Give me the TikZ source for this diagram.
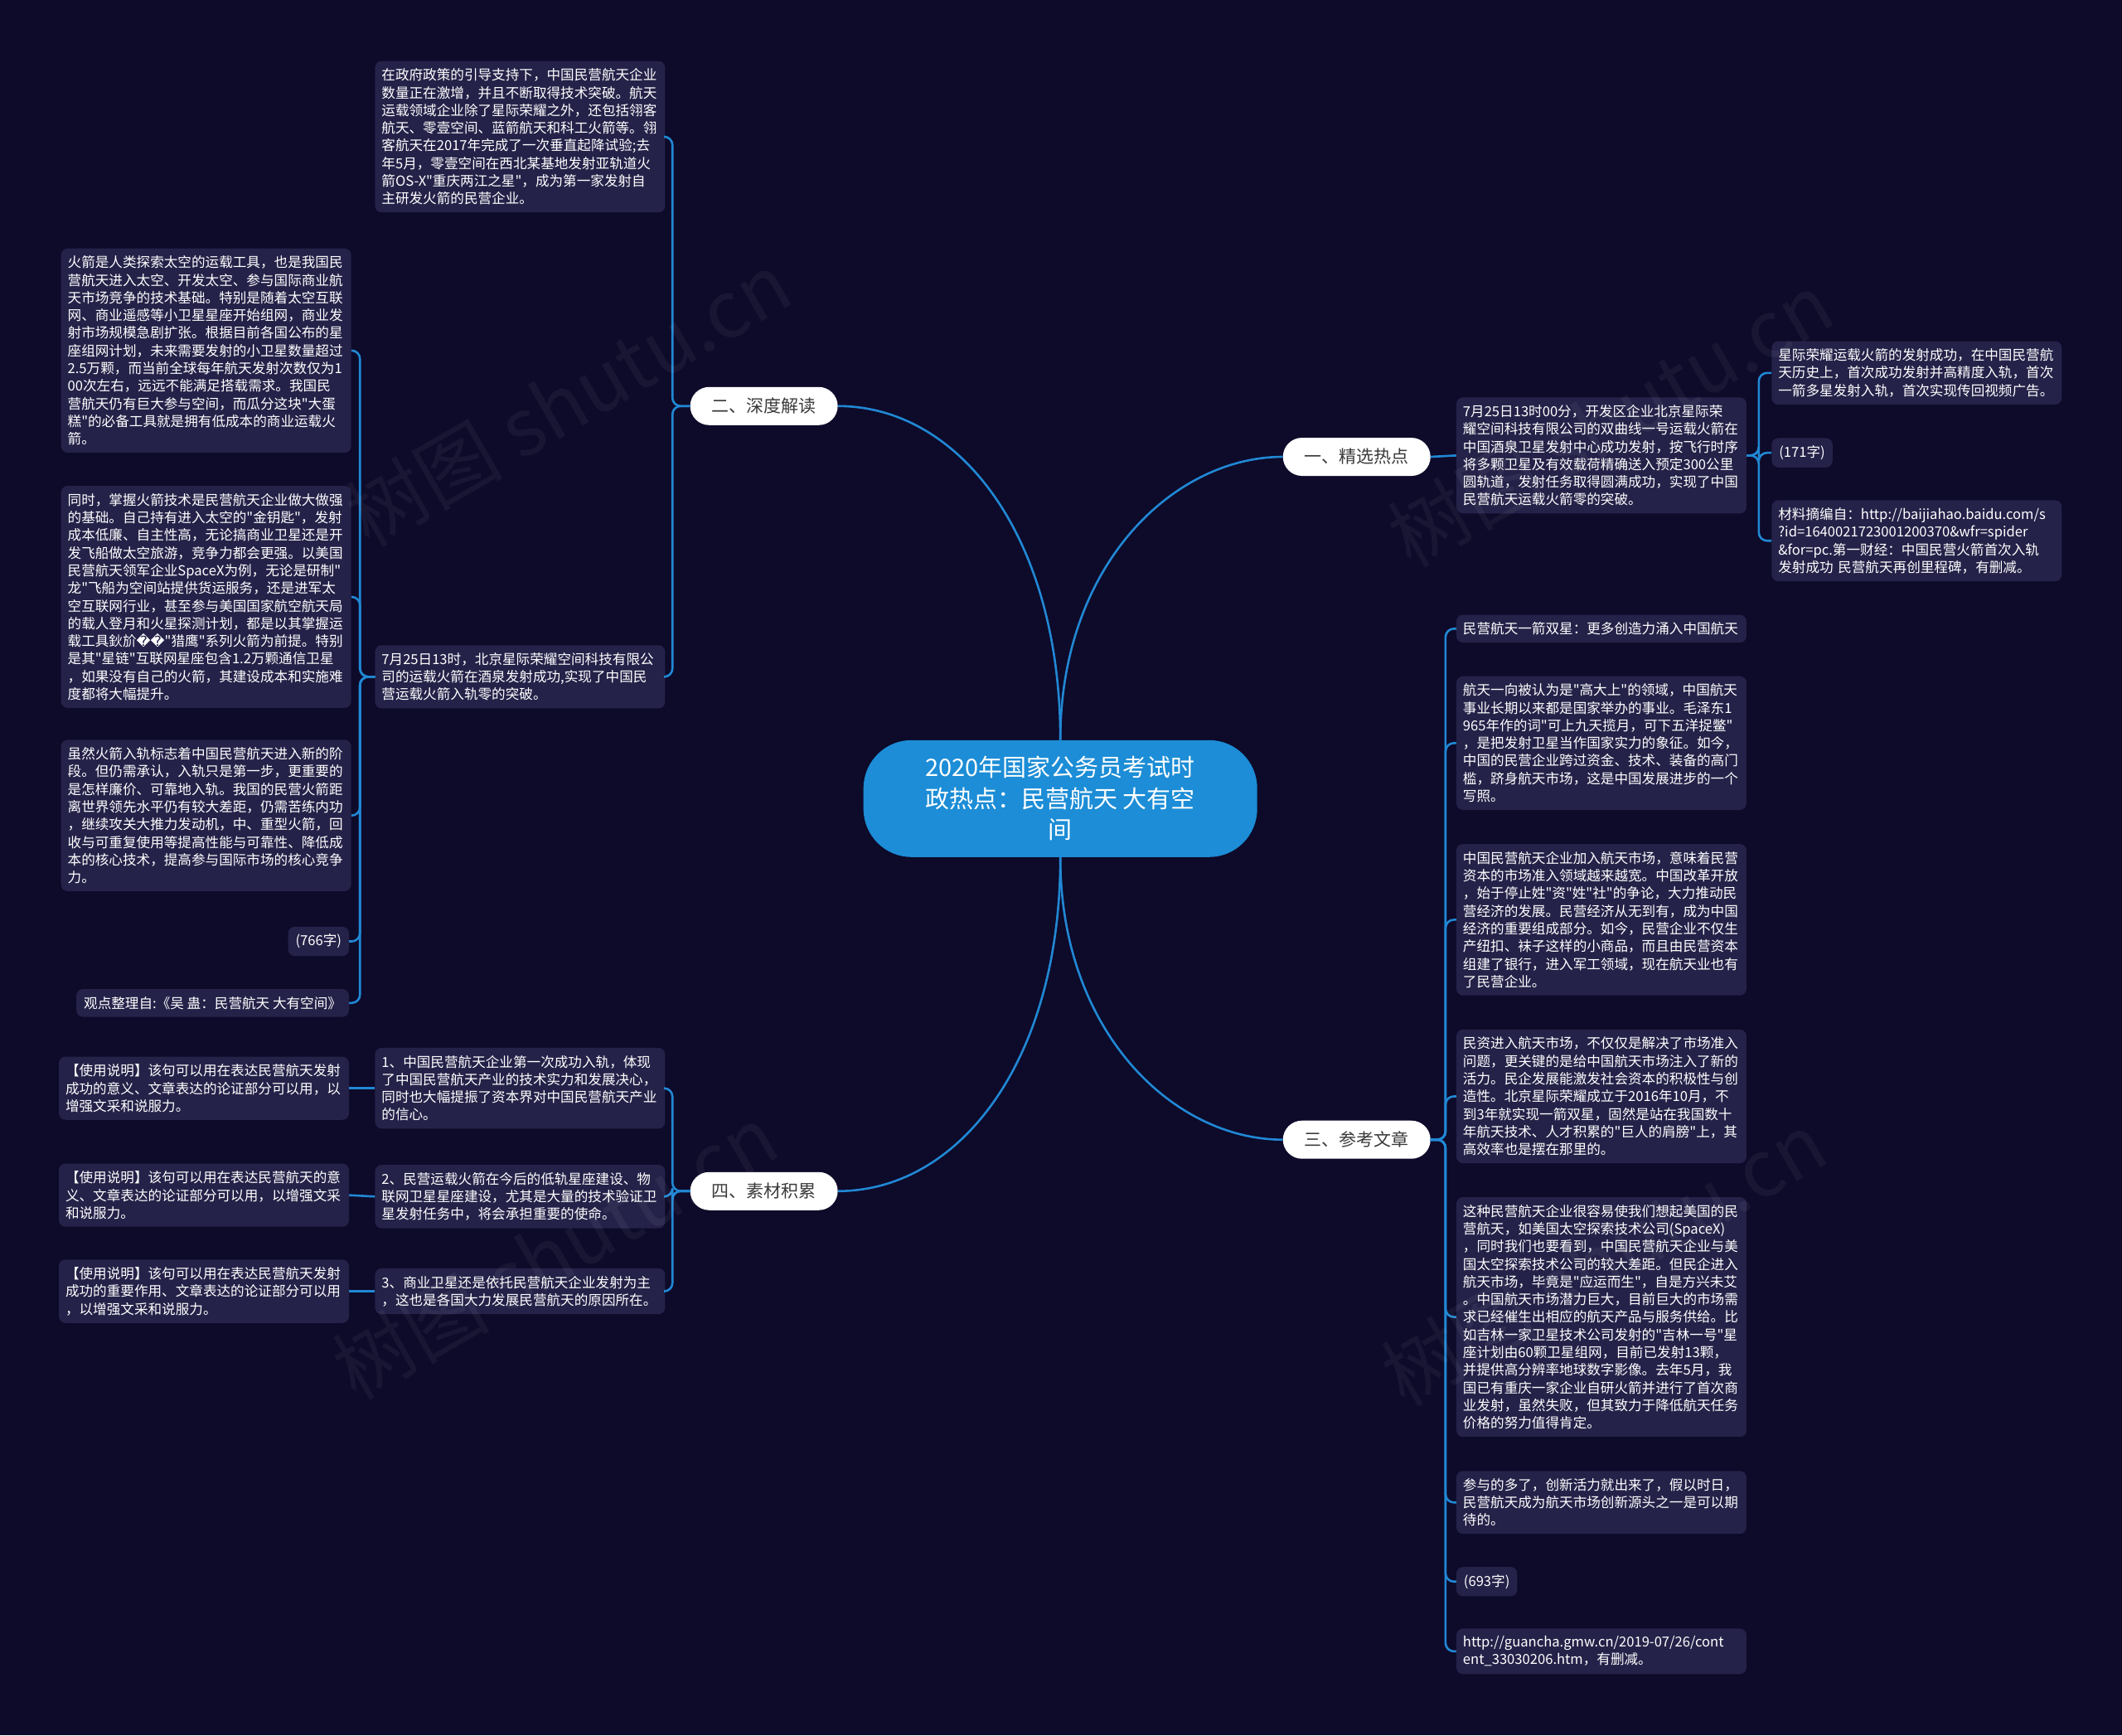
\documentclass[tikz,border=0pt]{standalone}
\usepackage{fontspec}
\setmainfont{Noto Sans CJK SC}[Ligatures=TeXOff]
\newfontfamily\symfont{DejaVu Sans}
\hyphenpenalty=10000
\exhyphenpenalty=10000

\definecolor{fons}{HTML}{0D0A2A}
\definecolor{caixa}{HTML}{252249}
\definecolor{blaulinia}{HTML}{2188D4}
\definecolor{blautema}{HTML}{1C8DD6}
\definecolor{grisbranca}{HTML}{3A3A3A}

\tikzset{
  topic/.style={fill=blautema, text=white, rounded corners=58pt, minimum width=475pt,
    minimum height=141pt, align=center, font=\fontsize{29pt}{37.5pt}\selectfont},
  branch/.style={fill=white, text=grisbranca, rounded corners=23pt, minimum width=178pt,
    minimum height=46pt, font=\fontsize{21pt}{24pt}\selectfont},
  note/.style={fill=caixa, text=white, rounded corners=8pt, text width=334pt, inner xsep=8pt,
    inner ysep=9pt, align=left, font=\fontsize{16.6pt}{21.3pt}\selectfont},
  tag/.style={fill=caixa, text=white, rounded corners=8pt, inner xsep=9pt, inner ysep=9pt,
    font=\fontsize{16.6pt}{21.3pt}\selectfont},
  link/.style={draw=blaulinia, line width=2.6pt},
  fork/.style={link, rounded corners=10pt},
  wmark/.style={text=white, text opacity=0.05, rotate=30, font=\fontsize{95pt}{95pt}\selectfont}
}

\begin{document}
\begin{tikzpicture}[x=1.6327pt, y=-1.6327pt]
  % Fons
  \fill[fons] (0,0) rectangle (1568,1282);
  \useasboundingbox (0,0) rectangle (1568,1282);

  % Tema central i branques
  \node[topic] (top) at (783.5,590) {2020年国家公务员考试时\\政热点：民营航天 大有空\\间};
  \node[branch] (b1) at (1002.5,337.5) {一、精选热点};
  \node[branch] (b2) at (564.5,300) {二、深度解读};
  \node[branch] (b3) at (1002.5,842) {三、参考文章};
  \node[branch] (b4) at (564.5,880) {四、素材积累};

  % Branca 二
  \node[note, anchor=west] (t1) at (277,101) {在政府政策的引导支持下，中国民营航天企业\\数量正在激增，并且不断取得技术突破。航天\\运载领域企业除了星际荣耀之外，还包括翎客\\航天、零壹空间、蓝箭航天和科工火箭等。翎\\客航天在2017年完成了一次垂直起降试验;去\\年5月，零壹空间在西北某基地发射亚轨道火\\箭OS-X"重庆两江之星"，成为第一家发射自\\主研发火箭的民营企业。};
  \node[note, anchor=west] (t2) at (277,500) {7月25日13时，北京星际荣耀空间科技有限公\\司的运载火箭在酒泉发射成功,实现了中国民\\营运载火箭入轨零的突破。};
  \node[note, anchor=west] (l1) at (45,259) {火箭是人类探索太空的运载工具，也是我国民\\营航天进入太空、开发太空、参与国际商业航\\天市场竞争的技术基础。特别是随着太空互联\\网、商业遥感等小卫星星座开始组网，商业发\\射市场规模急剧扩张。根据目前各国公布的星\\座组网计划，未来需要发射的小卫星数量超过\\2.5万颗，而当前全球每年航天发射次数仅为1\\00次左右，远远不能满足搭载需求。我国民\\营航天仍有巨大参与空间，而瓜分这块"大蛋\\糕"的必备工具就是拥有低成本的商业运载火\\箭。};
  \node[note, anchor=west] (l2) at (45,441) {同时，掌握火箭技术是民营航天企业做大做强\\的基础。自己持有进入太空的"金钥匙"，发射\\成本低廉、自主性高，无论搞商业卫星还是开\\发飞船做太空旅游，竞争力都会更强。以美国\\民营航天领军企业SpaceX为例，无论是研制"\\龙"飞船为空间站提供货运服务，还是进军太\\空互联网行业，甚至参与美国国家航空航天局\\的载人登月和火星探测计划，都是以其掌握运\\载工具鈥斺{\symfont ��}"猎鹰"系列火箭为前提。特别\\是其"星链"互联网星座包含1.2万颗通信卫星\\，如果没有自己的火箭，其建设成本和实施难\\度都将大幅提升。};
  \node[note, anchor=west] (l3) at (45,602.5) {虽然火箭入轨标志着中国民营航天进入新的阶\\段。但仍需承认，入轨只是第一步，更重要的\\是怎样廉价、可靠地入轨。我国的民营火箭距\\离世界领先水平仍有较大差距，仍需苦练内功\\，继续攻关大推力发动机，中、重型火箭，回\\收与可重复使用等提高性能与可靠性、降低成\\本的核心技术，提高参与国际市场的核心竞争\\力。};
  \node[tag, anchor=east] (l4) at (258,695.5) {(766字)};
  \node[tag, anchor=east] (l5) at (258,741) {观点整理自:《吴 蛊：民营航天 大有空间》};

  % Branca 四
  \node[note, anchor=west] (m1) at (277,804) {1、中国民营航天企业第一次成功入轨，体现\\了中国民营航天产业的技术实力和发展决心，\\同时也大幅提振了资本界对中国民营航天产业\\的信心。};
  \node[note, anchor=west] (m2) at (277,884) {2、民营运载火箭在今后的低轨星座建设、物\\联网卫星星座建设，尤其是大量的技术验证卫\\星发射任务中，将会承担重要的使命。};
  \node[note, anchor=west] (m3) at (277,954) {3、商业卫星还是依托民营航天企业发射为主\\，这也是各国大力发展民营航天的原因所在。};
  \node[note, anchor=east] (u1) at (258,804) {【使用说明】该句可以用在表达民营航天发射\\成功的意义、文章表达的论证部分可以用，以\\增强文采和说服力。};
  \node[note, anchor=east] (u2) at (258,883) {【使用说明】该句可以用在表达民营航天的意\\义、文章表达的论证部分可以用，以增强文采\\和说服力。};
  \node[note, anchor=east] (u3) at (258,954) {【使用说明】该句可以用在表达民营航天发射\\成功的重要作用、文章表达的论证部分可以用\\，以增强文采和说服力。};

  % Branca 一
  \node[note, anchor=west] (r1) at (1076,336.5) {7月25日13时00分，开发区企业北京星际荣\\耀空间科技有限公司的双曲线一号运载火箭在\\中国酒泉卫星发射中心成功发射，按飞行时序\\将多颗卫星及有效载荷精确送入预定300公里\\圆轨道，发射任务取得圆满成功，实现了中国\\民营航天运载火箭零的突破。};
  \node[note, anchor=west] (r1a) at (1309,275.5) {星际荣耀运载火箭的发射成功，在中国民营航\\天历史上，首次成功发射并高精度入轨，首次\\一箭多星发射入轨，首次实现传回视频广告。};
  \node[tag, anchor=west] (r1b) at (1309,334.5) {(171字)};
  \node[note, anchor=west] (r1c) at (1309,399.5) {材料摘编自：http://baijiahao.baidu.com/s\\?id=1640021723001200370\&wfr=spider\\\&for=pc.第一财经：中国民营火箭首次入轨\\发射成功 民营航天再创里程碑，有删减。};

  % Branca 三
  \node[note, anchor=west] (s1) at (1076,464.5) {民营航天一箭双星：更多创造力涌入中国航天};
  \node[note, anchor=west] (s2) at (1076,549) {航天一向被认为是"高大上"的领域，中国航天\\事业长期以来都是国家举办的事业。毛泽东1\\965年作的词"可上九天揽月，可下五洋捉鳖"\\，是把发射卫星当作国家实力的象征。如今，\\中国的民营企业跨过资金、技术、装备的高门\\槛，跻身航天市场，这是中国发展进步的一个\\写照。};
  \node[note, anchor=west] (s3) at (1076,679.5) {中国民营航天企业加入航天市场，意味着民营\\资本的市场准入领域越来越宽。中国改革开放\\，始于停止姓"资"姓"社"的争论，大力推动民\\营经济的发展。民营经济从无到有，成为中国\\经济的重要组成部分。如今，民营企业不仅生\\产纽扣、袜子这样的小商品，而且由民营资本\\组建了银行，进入军工领域，现在航天业也有\\了民营企业。};
  \node[note, anchor=west] (s4) at (1076,810) {民资进入航天市场，不仅仅是解决了市场准入\\问题，更关键的是给中国航天市场注入了新的\\活力。民企发展能激发社会资本的积极性与创\\造性。北京星际荣耀成立于2016年10月，不\\到3年就实现一箭双星，固然是站在我国数十\\年航天技术、人才积累的"巨人的肩膀"上，其\\高效率也是摆在那里的。};
  \node[note, anchor=west] (s5) at (1076,973) {这种民营航天企业很容易使我们想起美国的民\\营航天，如美国太空探索技术公司(SpaceX)\\，同时我们也要看到，中国民营航天企业与美\\国太空探索技术公司的较大差距。但民企进入\\航天市场，毕竟是"应运而生"，自是方兴未艾\\。中国航天市场潜力巨大，目前巨大的市场需\\求已经催生出相应的航天产品与服务供给。比\\如吉林一家卫星技术公司发射的"吉林一号"星\\座计划由60颗卫星组网，目前已发射13颗，\\并提供高分辨率地球数字影像。去年5月，我\\国已有重庆一家企业自研火箭并进行了首次商\\业发射，虽然失败，但其致力于降低航天任务\\价格的努力值得肯定。};
  \node[note, anchor=west] (s6) at (1076,1110) {参与的多了，创新活力就出来了，假以时日，\\民营航天成为航天市场创新源头之一是可以期\\待的。};
  \node[tag, anchor=west] (s7) at (1076,1168.5) {(693字)};
  \node[note, anchor=west] (s8) at (1076,1220) {http://guancha.gmw.cn/2019-07/26/cont\\ent\_33030206.htm，有删减。};

  % Connexions del tema
  \draw[link] (top.north) .. controls +(0,-150) and +(90,0) .. (b2.east);
  \draw[link] (top.north) .. controls +(0,-130) and +(-80,0) .. (b1.west);
  \draw[link] (top.south) .. controls +(0,130) and +(-80,0) .. (b3.west);
  \draw[link] (top.south) .. controls +(0,150) and +(90,0) .. (b4.east);

  % Connexions de 二
  \draw[fork] (b2.west) -- ++(-13,0) |- (t1.east);
  \draw[fork] (b2.west) -- ++(-13,0) |- (t2.east);
  \draw[fork] (t2.west) -- ++(-11,0) |- (l1.east);
  \draw[fork] (t2.west) -- ++(-11,0) |- (l2.east);
  \draw[fork] (t2.west) -- ++(-11,0) |- (l3.east);
  \draw[fork] (t2.west) -- ++(-11,0) |- (l4.east);
  \draw[fork] (t2.west) -- ++(-11,0) |- (l5.east);

  % Connexions de 四
  \draw[fork] (b4.west) -- ++(-13,0) |- (m1.east);
  \draw[fork] (b4.west) -- ++(-13,0) |- (m2.east);
  \draw[fork] (b4.west) -- ++(-13,0) |- (m3.east);
  \draw[link] (m1.west) -- (u1.east);
  \draw[link] (m2.west) -- (u2.east);
  \draw[link] (m3.west) -- (u3.east);

  % Connexions de 一
  \draw[link] (b1.east) -- (r1.west);
  \draw[fork] (r1.east) -- ++(9,0) |- (r1a.west);
  \draw[fork] (r1.east) -- ++(9,0) |- (r1b.west);
  \draw[fork] (r1.east) -- ++(9,0) |- (r1c.west);

  % Connexions de 三
  \draw[fork] (b3.east) -- ++(11,0) |- (s1.west);
  \draw[fork] (b3.east) -- ++(11,0) |- (s2.west);
  \draw[fork] (b3.east) -- ++(11,0) |- (s3.west);
  \draw[fork] (b3.east) -- ++(11,0) |- (s4.west);
  \draw[fork] (b3.east) -- ++(11,0) |- (s5.west);
  \draw[fork] (b3.east) -- ++(11,0) |- (s6.west);
  \draw[fork] (b3.east) -- ++(11,0) |- (s7.west);
  \draw[fork] (b3.east) -- ++(11,0) |- (s8.west);

  % Marca d'aigua
  \node[wmark] (w1) at (420,295) {树图 shutu.cn};
  \node[wmark] (w2) at (1190,310) {树图 shutu.cn};
  \node[wmark] (w3) at (410,925) {树图 shutu.cn};
  \node[wmark] (w4) at (1185,930) {树图 shutu.cn};
\end{tikzpicture}
\end{document}
